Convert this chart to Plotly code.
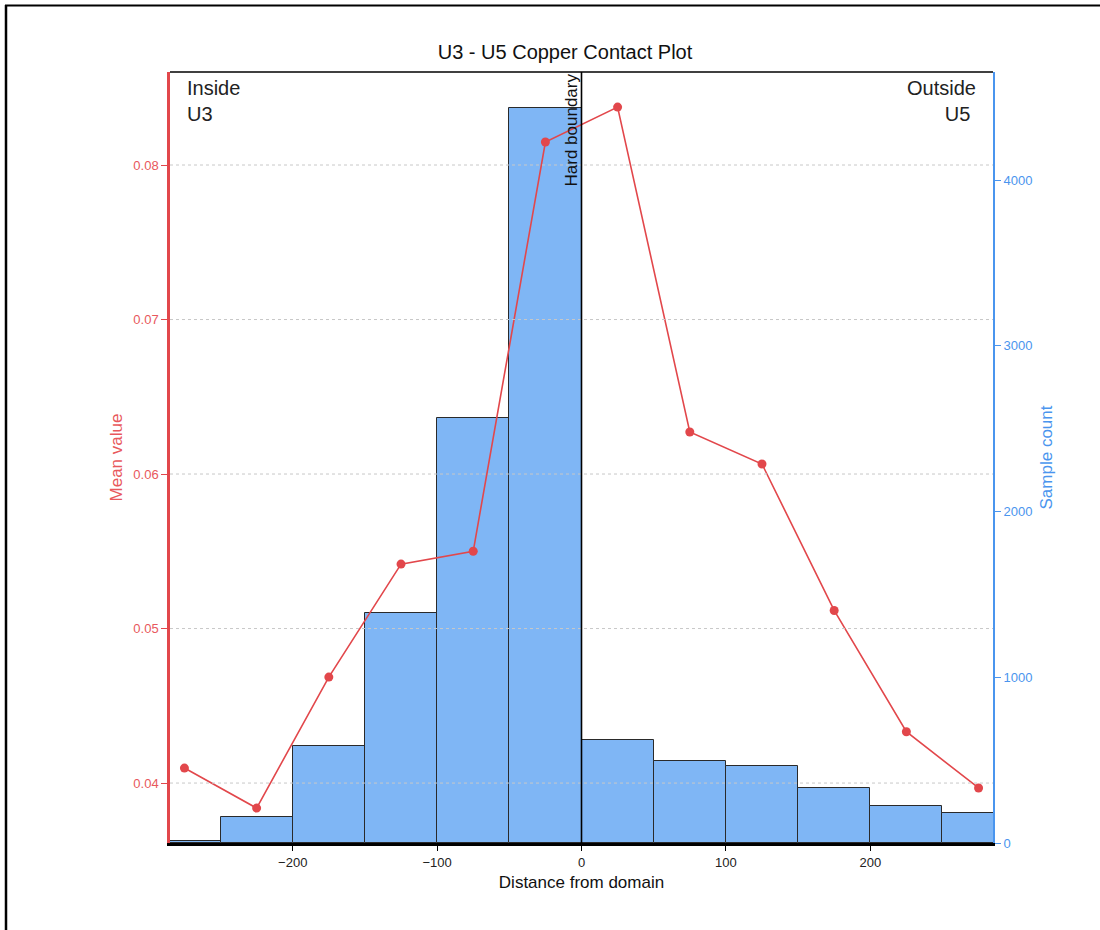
import plotly.graph_objects as go

# ---- data ----
bin_centers = [-275, -225, -175, -125, -75, -25, 25, 75, 125, 175, 225, 275]
sample_counts = [10, 155, 583, 1388, 2564, 4434, 621, 493, 467, 330, 221, 181]
mean_values = [0.04097, 0.03838, 0.04686, 0.05417, 0.0550, 0.08149,
               0.08375, 0.06272, 0.06065, 0.05117, 0.04332, 0.03968]
x_ticks = [-200, -100, 0, 100, 200]
mean_ticks = [0.04, 0.05, 0.06, 0.07, 0.08]
count_ticks = [0, 1000, 2000, 3000, 4000]
bin_width = 50

RED = "#E2474B"
RED_TXT = "#E8585C"
BLUE = "#4A95EE"
BAR = "#7FB6F5"
FONT = "Arial, Liberation Sans, sans-serif"

fig = go.Figure()

fig.add_trace(go.Bar(
    x=bin_centers, y=sample_counts, width=[bin_width] * len(bin_centers),
    marker=dict(color=BAR, line=dict(color="#2a2a2a", width=1)),
    yaxis="y", showlegend=False,
))

fig.add_trace(go.Scatter(
    x=bin_centers, y=mean_values, mode="lines+markers",
    line=dict(color=RED, width=1.6),
    marker=dict(color=RED, size=9),
    yaxis="y2", showlegend=False,
))

shapes = []
# dotted gridlines of the mean-value axis, drawn above bars
for t in mean_ticks:
    shapes.append(dict(type="line", xref="paper", x0=0, x1=1, yref="y2", y0=t, y1=t,
                       line=dict(color="#c8c8c8", width=1, dash="dot"), layer="above"))
# hard boundary line
shapes.append(dict(type="line", xref="x", x0=0, x1=0, yref="paper", y0=0, y1=1,
                   line=dict(color="black", width=1.6), layer="above"))
# top frame line of plot
shapes.append(dict(type="line", xref="paper", x0=0, x1=1, yref="paper", y0=1, y1=1,
                   line=dict(color="black", width=1.5), layer="above"))
# outer figure border (top and left)
W, H = 1100, 930
l, r, t, b = 170, 107, 72, 87
pw, ph = W - l - r, H - t - b
def px(xp):
    return (xp - l) / pw
def py(yp):
    return (H - b - yp) / ph
shapes.append(dict(type="line", xref="paper", yref="paper", x0=px(5), x1=px(1100),
                   y0=py(5.5), y1=py(5.5), line=dict(color="black", width=2)))
shapes.append(dict(type="line", xref="paper", yref="paper", x0=px(6), x1=px(6),
                   y0=py(5), y1=py(935), line=dict(color="black", width=2.5)))

annotations = [
    dict(text="Inside<br>U3", xref="paper", yref="paper", x=px(185), y=1 - 3 / ph,
         xanchor="left", yanchor="top", align="left", showarrow=False,
         font=dict(family=FONT, size=20, color="#222")),
    dict(text="Outside<br>U5&nbsp;", xref="paper", yref="paper", x=px(978), y=1 - 3 / ph,
         xanchor="right", yanchor="top", align="right", showarrow=False,
         font=dict(family=FONT, size=20, color="#222")),
    dict(text="Hard boundary", xref="x", yref="paper", x=0, y=1,
         xanchor="right", yanchor="top", textangle=-90, showarrow=False,
         font=dict(family=FONT, size=17, color="#111"), xshift=1),
]

fig.update_layout(
    width=W, height=H,
    margin=dict(l=l, r=r, t=t, b=b),
    paper_bgcolor="white", plot_bgcolor="white",
    font=dict(family=FONT),
    title=dict(text="U3 - U5 Copper Contact Plot", x=565 / W, xanchor="center",
               y=1 - 52 / H, yanchor="middle",
               font=dict(family=FONT, size=20, color="#111")),
    bargap=0,
    shapes=shapes,
    annotations=annotations,
    xaxis=dict(
        range=[-285, 285], tickvals=x_ticks, showgrid=False, zeroline=False,
        showline=True, linecolor="black", linewidth=3,
        ticks="outside", ticklen=5, tickcolor="black", tickwidth=1,
        tickfont=dict(family=FONT, size=13, color="#222"),
        title=dict(text="Distance from domain", font=dict(family=FONT, size=17, color="#111"),
                   standoff=8),
    ),
    yaxis=dict(
        side="right", range=[0, 4652], tickvals=count_ticks, showgrid=False,
        zeroline=False, showline=True, linecolor=BLUE, linewidth=2,
        ticks="outside", ticklen=6, tickcolor=BLUE,
        tickfont=dict(family=FONT, size=13, color=BLUE),
        title=dict(text="Sample count", font=dict(family=FONT, size=17, color=BLUE),
                   standoff=9),
    ),
    yaxis2=dict(
        overlaying="y", side="left", range=[0.03612, 0.08602], tickvals=mean_ticks,
        showgrid=False, zeroline=False, showline=True, linecolor=RED, linewidth=2.5,
        ticks="outside", ticklen=6, tickcolor=RED,
        tickfont=dict(family=FONT, size=13, color=RED_TXT),
        title=dict(text="Mean value", font=dict(family=FONT, size=17, color=RED_TXT),
                   standoff=7),
    ),
)

fig.write_html("out.html", post_script="document.body.style.margin='0';",
               config={"displayModeBar": False})
